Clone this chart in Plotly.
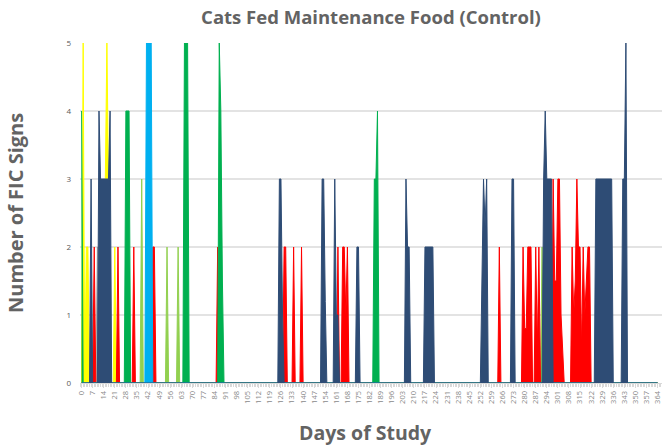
import plotly.graph_objects as go

# ---- data (day of study -> number of FIC signs), all other days are 0 ----
days = list(range(0, 365))
x_tick_vals = list(range(0, 365, 7))
x_tick_text = [str(v) for v in x_tick_vals]
y_tick_vals = [0, 1, 2, 3, 4, 5]

grey_days = [1, 10]
grey_vals = [2, 2]

lightgreen_days = [38, 54, 61, 291]
lightgreen_vals = [3, 2, 2, 2]

yellow_days = [1, 3, 4, 15, 16, 17, 21]
yellow_vals = [5, 2, 2, 3, 5, 3, 2]

red_days = [8, 23, 33, 45, 46, 86, 128, 129, 134, 139, 162, 165, 166, 167, 168,
            264, 279, 280, 281, 282, 283, 284, 287, 288, 289,
            298, 299, 300, 301, 302, 303, 304,
            310, 311, 312, 313, 314, 315, 316, 317, 318, 319, 320, 321]
red_vals = [2, 2, 2, 2, 2, 2, 2, 2, 2, 2, 2, 2, 2, 1, 2,
            2, 2, 0.8, 0.8, 2, 2, 2, 2, 0.5, 2,
            3, 1.5, 1.5, 3, 3, 1, 0.5,
            2, 1, 1.5, 3, 2, 2, 0.5, 2, 1, 1.5, 2, 2]

green_days = [0, 28, 29, 30, 65, 66, 67, 87, 88, 89, 185, 186, 187]
green_vals = [4, 4, 4, 4, 5, 5, 5, 5, 4, 1.5, 3, 3, 4]

lightblue_days = [41, 42, 43, 44]
lightblue_vals = [5, 5, 5, 5]

navy_days = [6, 11, 12, 13, 14, 15, 16, 17, 18,
             125, 126, 127, 152, 153, 154, 160, 161, 162, 174, 175,
             205, 206, 207, 217, 218, 219, 220, 221, 222,
             253, 254, 255, 256, 272, 273,
             292, 293, 294, 295, 296, 297,
             325, 326, 327, 328, 329, 330, 331, 332, 333, 334, 335,
             342, 343, 344]
navy_vals = [3, 4, 3, 3, 3, 3, 3, 3, 4,
             3, 3, 1, 3, 3, 1.2, 3, 1, 1, 2, 2,
             3, 2, 2, 2, 2, 2, 2, 2, 2,
             1.5, 3, 2.3, 3, 3, 3,
             3, 4, 3, 3, 3, 3,
             3, 3, 3, 3, 3, 3, 3, 3, 3, 3, 3,
             3, 3, 5]

series = [
    ("Grey", grey_days, grey_vals, "#A5A5A5"),
    ("Light green", lightgreen_days, lightgreen_vals, "#92D050"),
    ("Yellow", yellow_days, yellow_vals, "#FFFF00"),
    ("Red", red_days, red_vals, "#FF0000"),
    ("Green", green_days, green_vals, "#00B050"),
    ("Light blue", lightblue_days, lightblue_vals, "#00B0F0"),
    ("Navy", navy_days, navy_vals, "#2E4C75"),
]

fig = go.Figure()
for name, ds, vs, col in series:
    lookup = dict(zip(ds, vs))
    y = [lookup.get(d, 0) for d in days]
    fig.add_trace(go.Scatter(
        x=days, y=y, mode="lines", name=name,
        line=dict(color=col, width=1),
        fill="tozeroy", fillcolor=col,
        hoverinfo="x+y",
    ))

GREY = "#636363"
fig.update_layout(
    width=662, height=445,
    margin=dict(l=80, r=0, t=43, b=62, autoexpand=False),
    paper_bgcolor="white", plot_bgcolor="white",
    showlegend=False,
    title=dict(text="<b>Cats Fed Maintenance Food (Control)</b>",
               x=0.5, xref="paper", xanchor="center",
               y=1 - 18 / 445, yref="container", yanchor="middle",
               font=dict(family="Open Sans", size=18.5, color=GREY)),
    font=dict(family="Open Sans", color=GREY),
    annotations=[
        dict(text="<b>Days of Study</b>", xref="paper", yref="paper",
             x=0.49, y=0, xanchor="center", yanchor="middle", yshift=-49,
             showarrow=False, font=dict(family="Open Sans", size=19.5, color=GREY)),
        dict(text="<b>Number of FIC Signs</b>", xref="paper", yref="paper",
             x=0, y=0.5, xanchor="center", yanchor="middle", xshift=-65,
             textangle=-90, showarrow=False,
             font=dict(family="Open Sans", size=20, color=GREY)),
    ],
)
fig.update_xaxes(
    range=[-1, 366.8], tickmode="array", tickvals=x_tick_vals, ticktext=x_tick_text,
    tickangle=-90, tickfont=dict(size=7.5, color="#8A8A8A"),
    showgrid=False, zeroline=False, automargin=False, ticklabeloverflow="allow",
    showline=True, linecolor="#D9D9D9", linewidth=1,
    ticks="outside", ticklen=4, tickcolor="#D9D9D9",
    minor=dict(dtick=1, tick0=0, ticks="outside", ticklen=3, tickcolor="#D9D9D9", showgrid=False),
)
fig.update_yaxes(
    range=[0, 5], tickvals=y_tick_vals, automargin=False,
    tickfont=dict(size=8, color="#595959"),
    showgrid=True, gridcolor="#E3E3E3", gridwidth=1.5,
    zeroline=False, showline=False, ticks="", ticklabelstandoff=8,
)

fig.write_html("out.html", config={"displayModeBar": False},
               post_script="document.body.style.margin='0';document.body.style.padding='0';")
